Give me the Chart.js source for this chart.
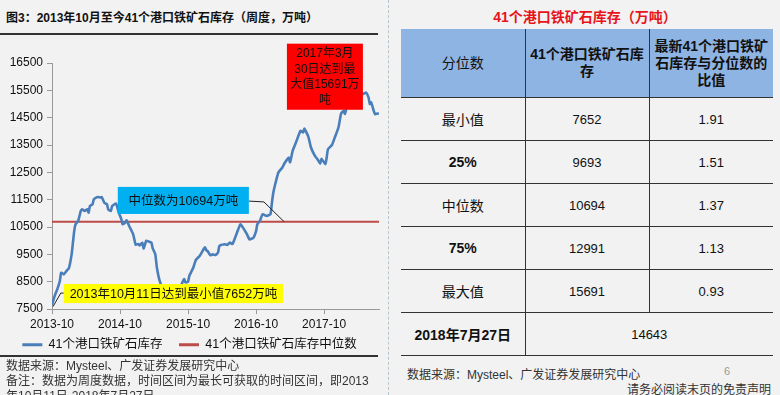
<!DOCTYPE html>
<html><head><meta charset="utf-8">
<script src="https://cdn.jsdelivr.net/npm/chart.js@4/dist/chart.umd.min.js"></script>
<style>
html,body{margin:0;padding:0;background:#f2f2f2;}
body{width:780px;height:395px;position:relative;overflow:hidden;font-family:"Liberation Sans","Noto Sans CJK SC",sans-serif;color:#111;}
.abs{position:absolute;white-space:nowrap;}
#title{left:6px;top:8px;font-size:12px;font-weight:bold;color:#111;}
#rule1{position:absolute;left:0;top:33px;width:378px;height:2px;background:#333;}
#rule2{position:absolute;left:0;top:355px;width:378px;height:1.5px;background:#333;}
#sep{position:absolute;left:388px;top:0;width:0;height:395px;border-left:1px dashed #b8c4cc;}
#chartBox{position:absolute;left:0;top:36px;width:388px;height:325px;}
.foot{font-size:12px;color:#333;}
#rtitle{position:absolute;left:390px;width:390px;top:6px;text-align:center;font-size:14px;font-weight:bold;color:#e8141b;}
#tbl{position:absolute;left:401px;top:29px;width:372px;border-collapse:collapse;table-layout:fixed;}
#tbl td{height:42px;text-align:center;vertical-align:middle;font-size:13px;color:#111;border-bottom:1.5px solid #333;padding:0;}
#tbl td+td{border-left:1.5px solid #333;}
#tbl tr.h td{background:#8eb4e3;height:68px;font-size:14px;line-height:17px;}
#tbl td.b{font-weight:bold;}
#tbl td.lab{font-size:14px;}
</style>
</head><body>
<div id="title" class="abs">图3：2013年10月至今41个港口铁矿石库存（周度，万吨）</div>
<div id="rule1"></div>
<div id="chartBox"><canvas id="c"></canvas></div>
<div id="rule2"></div>
<div class="abs foot" style="left:6px;top:356px;">数据来源：Mysteel、广发证券发展研究中心</div>
<div class="abs foot" style="left:6px;top:371px;">备注：数据为周度数据，时间区间为最长可获取的时间区间，即2013</div>
<div class="abs foot" style="left:6px;top:386px;">年10月11日-2018年7月27日</div>
<div id="sep"></div>
<div id="rtitle">41个港口铁矿石库存（万吨）</div>
<table id="tbl"></table>
<div class="abs foot" style="left:407px;top:365px;">数据来源：Mysteel、广发证券发展研究中心</div>
<div class="abs" style="left:724px;top:365px;font-size:11px;color:#999;">6</div>
<div class="abs foot" style="left:627px;top:380px;">请务必阅读末页的免责声明</div>
<script>
// ---- chart data (weekly index since 2013-10-11) ----
const weekIndex = [
 0,2,4,6,7,9,11,13,15,16,
 17,18,20,22,23,25,27,28,29,31,
 32,35,37,38,40,42,43,45,46,49,
 51,53,54,56,57,59,62,64,66,67,
 69,70,71,72,74,76,77,79,80,81,
 82,84,85,89,92,95,98,99,101,102,
 104,105,108,110,113,116,117,118,119,121,
 123,125,127,128,132,134,136,138,141,144,
 146,149,151,154,156,157,159,161,164,167,
 168,169,170,173,176,178,181,182,184,187,
 190,192,193,196,198,201,203,205,206,209,
 210,211,214,216,219,221,223,224,225,228,
 230,232,234,236,238,240,242,243,244,246,
 247,249,250];
const stockValues = [
 7652,7976,8220,8525,8830,8770,8890,9010,9500,9930,
 10360,10600,10720,11090,11150,11090,11150,11030,11270,11335,
 11520,11600,11580,11600,11390,11335,11150,11090,11270,11360,
 11030,10790,10600,10660,10750,10540,10240,9850,9880,9830,
 9930,9720,9850,10000,9970,9930,9720,9500,9080,8800,
 8590,8300,8200,8120,8080,8150,8250,8400,8600,8480,
 8500,8720,9010,9300,9450,9700,9760,9650,9620,9470,
 9500,9480,9580,9810,9870,9850,9930,9880,10240,10600,
 10480,10240,10050,10110,10350,10600,10730,10970,10910,10970,
 11330,11700,11940,12490,12670,12850,13040,12870,13290,13654,
 14020,13960,14100,13800,13410,13100,12980,12820,13000,12800,
 13040,13350,13500,13750,14140,14650,14750,14640,14815,15150,
 15420,15600,15691,15480,15365,15424,15240,15000,15060,14750,
 14630,14655,14643];
const medianValue = 10694;
const minValue = 7652;
const maxValue = 15691;
const seriesNames = ['41个港口铁矿石库存','41个港口铁矿石库存中位数'];
const tickWeeks = [0,52,104,156,208];
const tickLabels = ['2013-10','2014-10','2015-10','2016-10','2017-10'];

// ---- table data ----
const rowLabels = ['最小值','25%','中位数','75%','最大值'];
const rowStocks = [7652,9693,10694,12991,15691];
const rowRatios = ['1.91','1.51','1.37','1.13','0.93'];
const latestDate = '2018年7月27日';
const latestValue = 14643;

// build table
(function(){
  const t = document.getElementById('tbl');
  let h = '<colgroup><col style="width:124px"><col style="width:124px"><col style="width:124px"></colgroup>';
  h += '<tr class="h"><td>分位数</td><td class="b">41个港口铁矿石库<br>存</td><td class="b">最新41个港口铁矿<br>石库存与分位数的<br>比值</td></tr>';
  rowLabels.forEach((l,i)=>{
    const bold = /%/.test(l) ? ' b' : '';
    h += '<tr><td class="lab'+bold+'">'+l+'</td><td>'+rowStocks[i]+'</td><td>'+rowRatios[i]+'</td></tr>';
  });
  h += '<tr><td class="lab b">'+latestDate+'</td><td colspan="2">'+latestValue+'</td></tr>';
  t.innerHTML = h;
})();

const FONT = '"Liberation Sans","Noto Sans CJK SC",sans-serif';
const lastWeek = Math.max(...weekIndex);

const annot = {
  id:'annot',
  afterDatasetsDraw(chart){
    const {ctx, scales:{x,y}} = chart;
    const px = v=>x.getPixelForValue(v), py = v=>y.getPixelForValue(v);
    ctx.save();
    ctx.font = '12.5px '+FONT;
    ctx.textAlign='center'; ctx.textBaseline='middle';
    // leader lines
    ctx.strokeStyle='#222'; ctx.lineWidth=1;
    ctx.beginPath();
    ctx.moveTo(px(150.5),py(11450)); ctx.lineTo(px(162),py(11420)); ctx.lineTo(px(177.5),py(medianValue));
    ctx.stroke();
    ctx.beginPath();
    ctx.moveTo(px(9),py(8086)); ctx.lineTo(px(6.7),py(8086)); ctx.lineTo(px(0.8),py(7590));
    ctx.stroke();
    // blue box
    let L=px(50.3),R=px(150.5),T=py(11969),B=py(10980);
    ctx.fillStyle='#00b0f0'; ctx.fillRect(L,T,R-L,B-T);
    ctx.fillStyle='#111'; ctx.fillText('中位数为'+medianValue+'万吨',(L+R)/2,(T+B)/2+1);
    // yellow box
    L=px(9);R=px(176.6);T=py(8416);B=py(7720);
    ctx.fillStyle='#ffff00'; ctx.fillRect(L,T,R-L,B-T);
    ctx.fillStyle='#111'; ctx.fillText('2013年10月11日达到最小值'+minValue+'万吨',(L+R)/2,(T+B)/2+1);
    // red box
    L=px(179.6);R=px(237.7);T=py(17207);B=py(14790);
    ctx.fillStyle='#ff0000'; ctx.fillRect(L,T,R-L,B-T);
    ctx.fillStyle='#111';
    ctx.font = '12px '+FONT;
    const lines=['2017年3月','30日达到最','大值'+maxValue+'万','吨'];
    lines.forEach((s,i)=>ctx.fillText(s,(L+R)/2,T+10+i*15.7));
    ctx.restore();
  }
};

new Chart(document.getElementById('c'),{
  type:'line',
  data:{datasets:[
    {label:seriesNames[0],data:weekIndex.map((w,i)=>({x:w,y:stockValues[i]})),borderColor:'#4a7ebb',backgroundColor:'#4a7ebb',borderWidth:2.6,pointRadius:0,tension:0.15},
    {label:seriesNames[1],data:[{x:0,y:medianValue},{x:lastWeek,y:medianValue}],borderColor:'#be4b48',backgroundColor:'#be4b48',borderWidth:2,pointRadius:0}
  ]},
  options:{
    responsive:true,maintainAspectRatio:false,animation:false,
    layout:{padding:{top:27,right:9,left:0,bottom:0}},
    scales:{
      x:{type:'linear',min:0,max:lastWeek,
        afterBuildTicks:s=>{s.ticks=tickWeeks.map(v=>({value:v}));},
        ticks:{callback:v=>tickLabels[tickWeeks.indexOf(v)],font:{size:12,family:FONT},color:'#111',maxRotation:0,autoSkip:false,padding:3},
        grid:{drawOnChartArea:false,tickLength:5,color:'#999'},border:{color:'#999'}},
      y:{min:7500,max:16500,
        ticks:{stepSize:1000,callback:v=>String(v),font:{size:12,family:FONT},color:'#111',padding:4},
        grid:{drawOnChartArea:false,tickLength:5,color:'#999'},border:{color:'#999'},
        afterFit:s=>{s.width=52;}}
    },
    plugins:{
      tooltip:{enabled:false},
      legend:{position:'bottom',labels:{font:{size:12.5,family:FONT},color:'#111',boxWidth:20,boxHeight:3,padding:4,
        generateLabels:ch=>ch.data.datasets.map((d,i)=>({text:d.label+(i===0?'\u2003':''),fillStyle:d.borderColor,strokeStyle:d.borderColor,lineWidth:0,hidden:false,datasetIndex:i,fontColor:'#111'}))}}
    }
  },
  plugins:[annot]
});
</script>
</body></html>
